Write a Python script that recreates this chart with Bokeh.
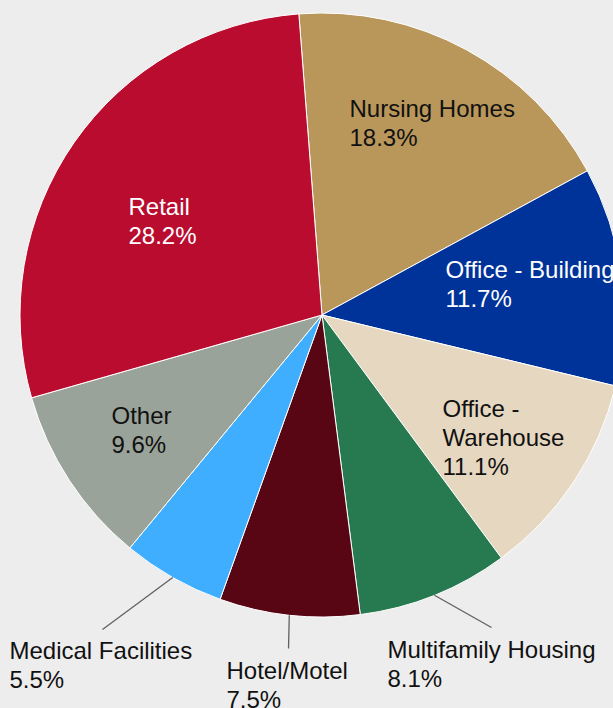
import math
from bokeh.plotting import figure
from bokeh.models import Range1d, ColumnDataSource
from bokeh.embed import file_html
from bokeh.resources import INLINE
from bokeh.core.properties import value

# ---------------- data ----------------
categories = ["Nursing Homes", "Office - Building", "Office - Warehouse",
              "Multifamily Housing", "Hotel/Motel", "Medical Facilities",
              "Other", "Retail"]
shares = [18.3, 11.7, 11.1, 8.1, 7.5, 5.5, 9.6, 28.2]
colors = ["#B9975B", "#003399", "#E6D7C0", "#277A50",
          "#580614", "#40AEFF", "#99A399", "#BA0C2F"]

# ---------------- layout / style ----------------
BG = "#ededed"
W, H = 613, 708
CX, CY = 321.5, 314.5          # pie centre, page px
R = 302                        # pie radius, px
START = -4.4                   # first slice edge, degrees clockwise from 12 o'clock
FONT = "Liberation Sans"
FS = 24
LINE = 29
TEXT_DY = -8                   # renderer baseline correction
label_lines = {"Office - Warehouse": ["Office -", "Warehouse"]}
white_labels = {"Retail", "Office - Building"}
label_pos = {                  # left x, first baseline y (page px)
    "Nursing Homes": (349, 116),
    "Office - Building": (445, 277),
    "Office - Warehouse": (442, 416),
    "Multifamily Housing": (387, 657),
    "Hotel/Motel": (226, 678),
    "Medical Facilities": (9, 658),
    "Other": (111, 423),
    "Retail": (128, 214),
}
leader_end = {"Multifamily Housing": (491, 627),
              "Hotel/Motel": (288, 648),
              "Medical Facilities": (102, 629)}


def py(y):  # page y -> data y
    return H - y


p = figure(width=W, height=H, output_backend="svg", toolbar_location=None,
           x_range=Range1d(0, W), y_range=Range1d(0, H), min_border=0)
p.axis.visible = False
p.grid.visible = False
p.outline_line_color = None
p.background_fill_color = BG
p.border_fill_color = BG

total = sum(shares)
starts, ends, mids = [], [], []
acc = START
for s in shares:
    a0 = acc
    a1 = acc + s / total * 360.0
    starts.append(a0)
    ends.append(a1)
    mids.append((a0 + a1) / 2)
    acc = a1

src = ColumnDataSource(dict(
    x=[CX] * len(shares), y=[py(CY)] * len(shares),
    start=[math.radians(90 - e) for e in ends],
    end=[math.radians(90 - s) for s in starts],
    color=colors, cat=categories))
p.wedge(x="x", y="y", radius=R, start_angle="start", end_angle="end",
        fill_color="color", line_color="white", line_width=1, source=src)

# leader lines
x0s, y0s, x1s, y1s = [], [], [], []
for c, m in zip(categories, mids):
    if c in leader_end:
        ax = CX + R * math.sin(math.radians(m))
        ay = CY - R * math.cos(math.radians(m))
        ex, ey = leader_end[c]
        x0s.append(ax); y0s.append(py(ay)); x1s.append(ex); y1s.append(py(ey))
p.segment(x0=x0s, y0=y0s, x1=x1s, y1=y1s, line_color="#606060", line_width=1.3)

# labels
tx, ty, tt, tc = [], [], [], []
for c, s in zip(categories, shares):
    lines = label_lines.get(c, [c]) + [f"{s:.1f}%"]
    lx, by = label_pos[c]
    for i, ln in enumerate(lines):
        tx.append(lx)
        ty.append(py(by + i * LINE + TEXT_DY))
        tt.append(ln)
        tc.append("white" if c in white_labels else "#111111")
p.text(x=tx, y=ty, text=tt, text_color=tc, text_font=value(FONT),
       text_font_size=f"{FS}px", text_align="left", text_baseline="alphabetic")

html = file_html(p, INLINE)
html = html.replace("</head>", f"<style>body{{background:{BG};}}</style></head>", 1)
open("out.html", "w").write(html)
